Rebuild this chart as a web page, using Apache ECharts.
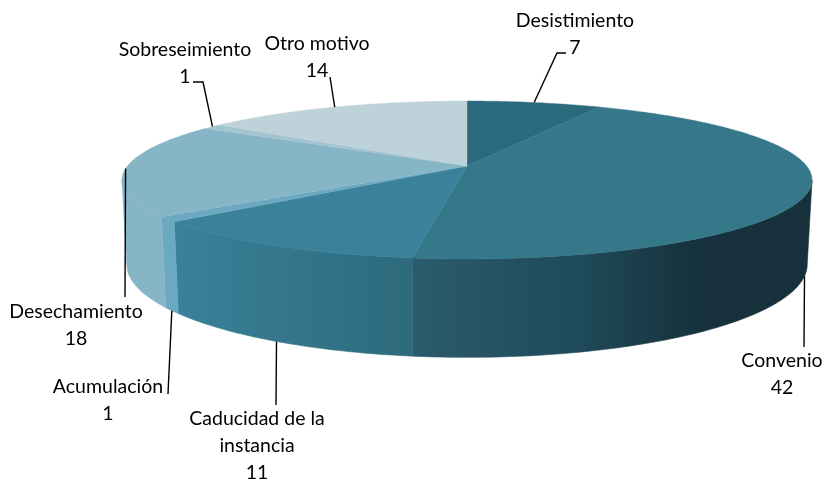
<!DOCTYPE html>
<html>
<head>
<meta charset="utf-8">
<style>
  html, body { margin: 0; padding: 0; background: #fff; }
  #chart { width: 826px; height: 482px; }
</style>
<script src="https://cdn.jsdelivr.net/npm/echarts@6/dist/echarts.min.js"></script>
</head>
<body>
<div id="chart"></div>
<script>
  const categories = ['Desistimiento', 'Convenio', 'Caducidad de la\ninstancia', 'Acumulación', 'Desechamiento', 'Sobreseimiento', 'Otro motivo'];
  const values = [7, 42, 11, 1, 18, 1, 14];

  const topColors = ['#2b6a7c', '#35788a', '#3a8199', '#6aa9bf', '#86b5c6', '#a3c5d1', '#bed2d9'];
  // side gradients, only the slices that face the viewer
  const sideStops = {
    1: [[0, '#2b5b6c'], [0.42, '#1f4a5a'], [0.72, '#16313b'], [1, '#16313b']],
    2: [[0, '#3a8199'], [1, '#2d6a7c']],
    3: [[0, '#6aa9bf'], [1, '#6aa9bf']],
    4: [[0, '#86b5c6'], [1, '#86b5c6']]
  };
  // label centre and leader bend points, leaders start on the slice's mid angle
  const labelCenters = [[575, 34], [782, 374], [257, 446], [108, 400], [76, 325], [185, 63], [317, 57]];
  const leaderEnds = [
    [[557, 53], [566, 53]],
    [[804, 347]],
    [[276, 405]],
    [[168, 394]],
    [[125, 297]],
    [[203, 82], [193, 82]],
    [[330, 77]]
  ];

  const cx = 467, topY = 166, bottomY = 248;
  const radiusX = 339.6, radiusTop = 76.5, radiusBottom = 90;
  const persp = 0.177, bottomScale = 0.986;
  // angles where the rim turns away from the viewer
  const wallFrom = 100.2, wallTo = 259.8;
  const total = values.reduce((a, b) => a + b, 0);

  function project(deg, bottom) {
    const t = deg * Math.PI / 180;
    const x = Math.sin(t), y = -Math.cos(t);
    const s = 1 / (1 - persp * y);
    if (bottom) {
      return [cx + radiusX * bottomScale * x * s, bottomY + radiusBottom * y * s];
    }
    return [cx + radiusX * x * s, topY + radiusTop * y * s];
  }

  function arc(from, to, bottom) {
    const pts = [];
    const n = Math.max(2, Math.ceil(Math.abs(to - from)));
    for (let i = 0; i <= n; i++) {
      pts.push(project(from + (to - from) * i / n, bottom));
    }
    return pts;
  }

  function renderItem(params, api) {
    const i = api.value(0);
    const before = values.slice(0, i).reduce((a, b) => a + b, 0);
    const start = before / total * 360;
    const end = (before + api.value(1)) / total * 360;
    const mid = (start + end) / 2;
    const children = [];

    // visible side wall
    const sideFrom = Math.max(start, wallFrom), sideTo = Math.min(end, wallTo);
    if (sideFrom < sideTo) {
      const wall = arc(sideFrom, sideTo, false).concat(arc(sideFrom, sideTo, true).reverse());
      const xs = wall.map(p => p[0]);
      const x0 = Math.min.apply(null, xs), x1 = Math.max.apply(null, xs);
      const stops = sideStops[i].map(s => ({offset: s[0], color: s[1]}));
      const fill = new echarts.graphic.LinearGradient(x0, 0, x1, 0, stops, true);
      children.push({
        type: 'polygon',
        z2: 1,
        shape: {points: wall},
        style: {fill: fill, stroke: fill, lineWidth: 0.6}
      });
    }

    // top face
    children.push({
      type: 'polygon',
      z2: 2,
      shape: {points: [[cx, topY]].concat(arc(start, end, false))},
      style: {fill: topColors[i], stroke: topColors[i], lineWidth: 0.4}
    });

    // leader line
    const onFront = mid > wallFrom - 10 && mid < wallTo;
    children.push({
      type: 'polyline',
      z2: 3,
      shape: {points: [project(mid, onFront)].concat(leaderEnds[i])},
      style: {fill: null, stroke: '#000', lineWidth: 1.4}
    });

    children.push({
      type: 'text',
      z2: 4,
      style: {
        text: categories[i] + '\n' + api.value(1),
        x: labelCenters[i][0],
        y: labelCenters[i][1],
        align: 'center',
        verticalAlign: 'middle',
        font: '19.5px Lato',
        lineHeight: 27,
        fill: '#000'
      }
    });

    return {type: 'group', children: children};
  }

  const chart = echarts.init(document.getElementById('chart'));
  chart.setOption({
    animation: false,
    series: [{
      type: 'custom',
      coordinateSystem: 'none',
      silent: true,
      renderItem: renderItem,
      data: values.map((v, i) => [i, v])
    }]
  });
</script>
</body>
</html>
